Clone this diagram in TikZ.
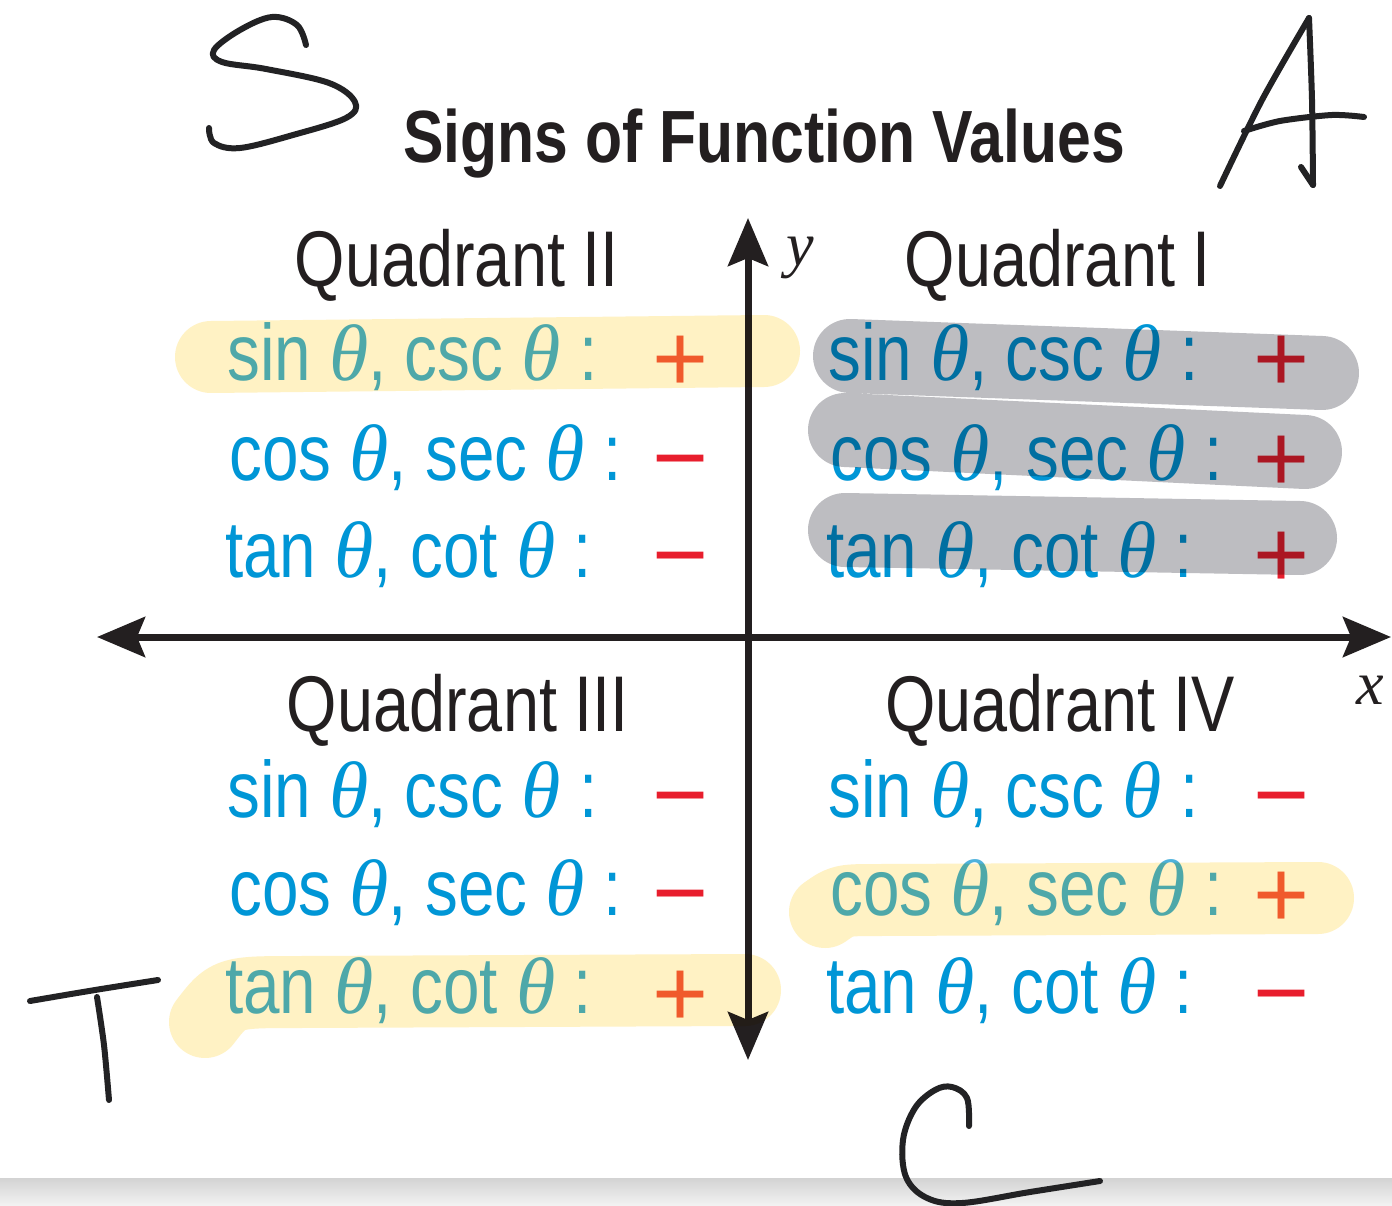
\documentclass[tikz,border=0pt]{standalone}
\usepackage{fontspec}
\setmainfont{Liberation Sans}
\newfontfamily\cf[FakeStretch=0.82]{Liberation Sans}
\newfontfamily\sgnf{Liberation Sans}
\newfontfamily\seri{Liberation Serif}
\usetikzlibrary{arrows.meta}
\definecolor{ink}{RGB}{35,31,32}
\definecolor{fblue}{RGB}{0,150,214}
\definecolor{fred}{RGB}{232,30,45}
\definecolor{hlteal}{RGB}{78,178,220}
\definecolor{hlorange}{RGB}{240,95,58}
\definecolor{hlyellow}{RGB}{255,242,196}
\definecolor{hlgrey}{RGB}{189,189,193}
\definecolor{pen}{RGB}{34,34,36}
\newcommand\tht{{\seri\itshape θ}}
\tikzset{
  head/.style={anchor=base, inner sep=0pt, text=ink, font=\cf\fontsize{79}{90}\selectfont},
  fn/.style={anchor=base west, inner sep=0pt, text=fblue, font=\cf\fontsize{80}{90}\selectfont},
  sgn/.style={anchor=base, inner sep=0pt, font=\sgnf\fontsize{96}{100}\selectfont},
  axisline/.style={line width=7pt, draw=ink, {Stealth[length=48pt,width=40pt,inset=8pt]}-{Stealth[length=48pt,width=40pt,inset=8pt]}},
  hand/.style={draw=pen, line width=6pt, line cap=round, line join=round},
  hly/.style={draw=hlyellow, line width=72pt, line cap=round, line join=round},
  hlg/.style={draw=hlgrey, line width=74pt, line cap=round, line join=round},
}
\begin{document}
\begin{tikzpicture}[x=1pt,y=-1pt]
\fill[white] (0,0) rectangle (1392,1206);
\useasboundingbox (0,0) rectangle (1392,1206);
% bottom grey band
\shade[top color={rgb,255:red,211;green,211;blue,211}, bottom color={rgb,255:red,243;green,243;blue,243}] (0,1178) rectangle (1392,1206);

% title
\node[anchor=base, inner sep=0pt, text=ink, font=\cf\bfseries\fontsize{74}{80}\selectfont] (title) at (764,163) {Signs of Function Values};

% axes
\coordinate (xl) at (97,637);
\coordinate (xr) at (1391,637);
\coordinate (yb) at (748,1060);
\coordinate (yt) at (748,218);
\draw[axisline] (xl) -- (xr);
\draw[axisline] (yb) -- (yt);
\node[inner sep=0pt, text=ink, font=\seri\itshape\fontsize{62}{70}\selectfont] (ylab) at (800,258) {y};
\node[inner sep=0pt, text=ink, font=\seri\itshape\fontsize{62}{70}\selectfont] (xlab) at (1370,690) {x};

% headers
\node[head] (h2) at (457,287) {Quadrant II};
\node[head] (h1) at (1058,287) {Quadrant I};
\node[head] (h3) at (458,731) {Quadrant III};
\node[head] (h4) at (1060,731) {Quadrant IV};

% Quadrant II
\node[fn, text=hlteal] (q2a) at (227,380) {sin \tht, csc \tht\ :};
\node[fn] (q2b) at (229,480) {cos \tht, sec \tht\ :};
\node[fn] (q2c) at (225,577) {tan \tht, cot \tht\ :};
\node[sgn, text=hlorange] (q2sa) at (681,391) {+};
\node[sgn, text=fred] (q2sb) at (681,490) {−};
\node[sgn, text=fred] (q2sc) at (681,587) {−};

% Quadrant I
\node[fn] (q1a) at (828,380) {sin \tht, csc \tht\ :};
\node[fn] (q1b) at (830,480) {cos \tht, sec \tht\ :};
\node[fn] (q1c) at (826,577) {tan \tht, cot \tht\ :};
\node[sgn, text=fred] (q1sa) at (1282,391) {+};
\node[sgn, text=fred] (q1sb) at (1282,491) {+};
\node[sgn, text=fred] (q1sc) at (1282,587) {+};

% Quadrant III
\node[fn] (q3a) at (227,817) {sin \tht, csc \tht\ :};
\node[fn] (q3b) at (229,915) {cos \tht, sec \tht\ :};
\node[fn, text=hlteal] (q3c) at (225,1013) {tan \tht, cot \tht\ :};
\node[sgn, text=fred] (q3sa) at (681,827) {−};
\node[sgn, text=fred] (q3sb) at (681,925) {−};
\node[sgn, text=hlorange] (q3sc) at (681,1026) {+};

% Quadrant IV
\node[fn] (q4a) at (828,817) {sin \tht, csc \tht\ :};
\node[fn, text=hlteal] (q4b) at (830,915) {cos \tht, sec \tht\ :};
\node[fn] (q4c) at (826,1013) {tan \tht, cot \tht\ :};
\node[sgn, text=fred] (q4sa) at (1282,827) {−};
\node[sgn, text=hlorange] (q4sb) at (1282,927) {+};
\node[sgn, text=fred] (q4sc) at (1282,1025) {−};

% highlighter strokes
\begin{scope}[blend mode=multiply]
\draw[hly] (211,357) -- (764,351);
\draw[hly] (205,1022) .. controls (228,992) .. (300,992) -- (745,990);
\draw[hly] (825,912) .. controls (842,900) .. (880,900) -- (1318,898);
\draw[hlg] (850,356) -- (1322,373) (845,430) -- (1305,452) (845,530) -- (1300,538);
\end{scope}

% handwritten letters
\draw[hand] plot[smooth, tension=0.6] coordinates {(306,45) (297,25) (272,17) (240,30) (214,50) (222,62) (266,69) (329,83) (355,102) (346,118) (293,135) (240,148) (214,143) (209,128)};
\draw[hand] plot[smooth] coordinates {(1220,186) (1262,100) (1309,18)};
\draw[hand] plot[smooth] coordinates {(1309,18) (1312,100) (1313,185)};
\draw[hand] (1301,167) -- (1313,185);
\draw[hand] plot[smooth] coordinates {(1244,131) (1280,121) (1332,115) (1364,117)};
\draw[hand] plot[smooth] coordinates {(30,1001) (95,990) (158,980)};
\draw[hand] plot[smooth] coordinates {(97,997) (104,1045) (109,1100)};
\draw[hand] plot[smooth, tension=0.6] coordinates {(969,1126) (967,1098) (952,1087) (935,1090) (915,1108) (903,1140) (906,1177) (927,1198) (962,1203) (1030,1192) (1100,1181)};
\end{tikzpicture}
\end{document}
